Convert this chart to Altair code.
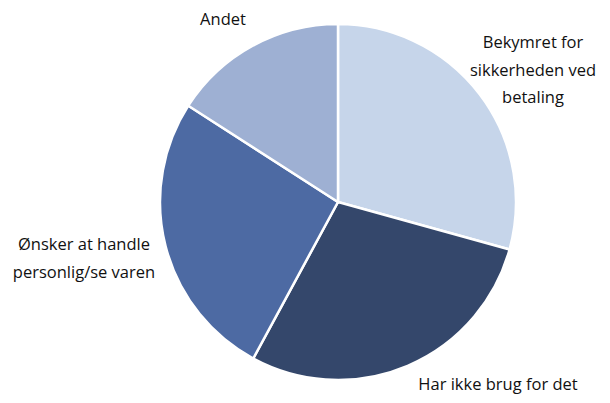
import altair as alt
import pandas as pd

categories = ["Bekymret for sikkerheden ved betaling", "Har ikke brug for det",
              "Ønsker at handle personlig/se varen", "Andet"]
values = [29.3, 28.6, 26.2, 15.9]
colors = ["#c6d5ea", "#34476b", "#4d6aa3", "#9eb0d3"]

df = pd.DataFrame({"cat": categories, "val": values, "order": list(range(len(values)))})

W, H = 594, 387
cx, cy = 330, 194

pie = alt.Chart(df).mark_arc(outerRadius=178, stroke="white", strokeWidth=2.5).encode(
    theta=alt.Theta("val:Q", stack=True),
    order=alt.Order("order:Q"),
    color=alt.Color("cat:N", scale=alt.Scale(domain=categories, range=colors), legend=None),
    x=alt.value(cx), y=alt.value(cy),
)

label_specs = [
    (["Bekymret for", "sikkerheden ved", "betaling"], 525, 35),
    (["Har ikke brug for det"], 490, 377),
    (["Ønsker at handle", "personlig/se varen"], 76, 237),
    (["Andet"], 215, 12),
]

layers = [pie]
for lines, x, y in label_specs:
    layers.append(
        alt.Chart(pd.DataFrame({"t": [lines]})).mark_text(
            font="Open Sans", fontSize=16.5, lineHeight=27.5, color="#111111",
            align="center", baseline="middle"
        ).encode(text="t", x=alt.value(x), y=alt.value(y))
    )

chart = alt.layer(*layers).properties(
    width=W, height=H, padding=0, autosize=alt.AutoSizeParams(type="none")
).configure_view(stroke=None)

chart.save("out.html", embed_options={"renderer": "svg", "actions": False})
